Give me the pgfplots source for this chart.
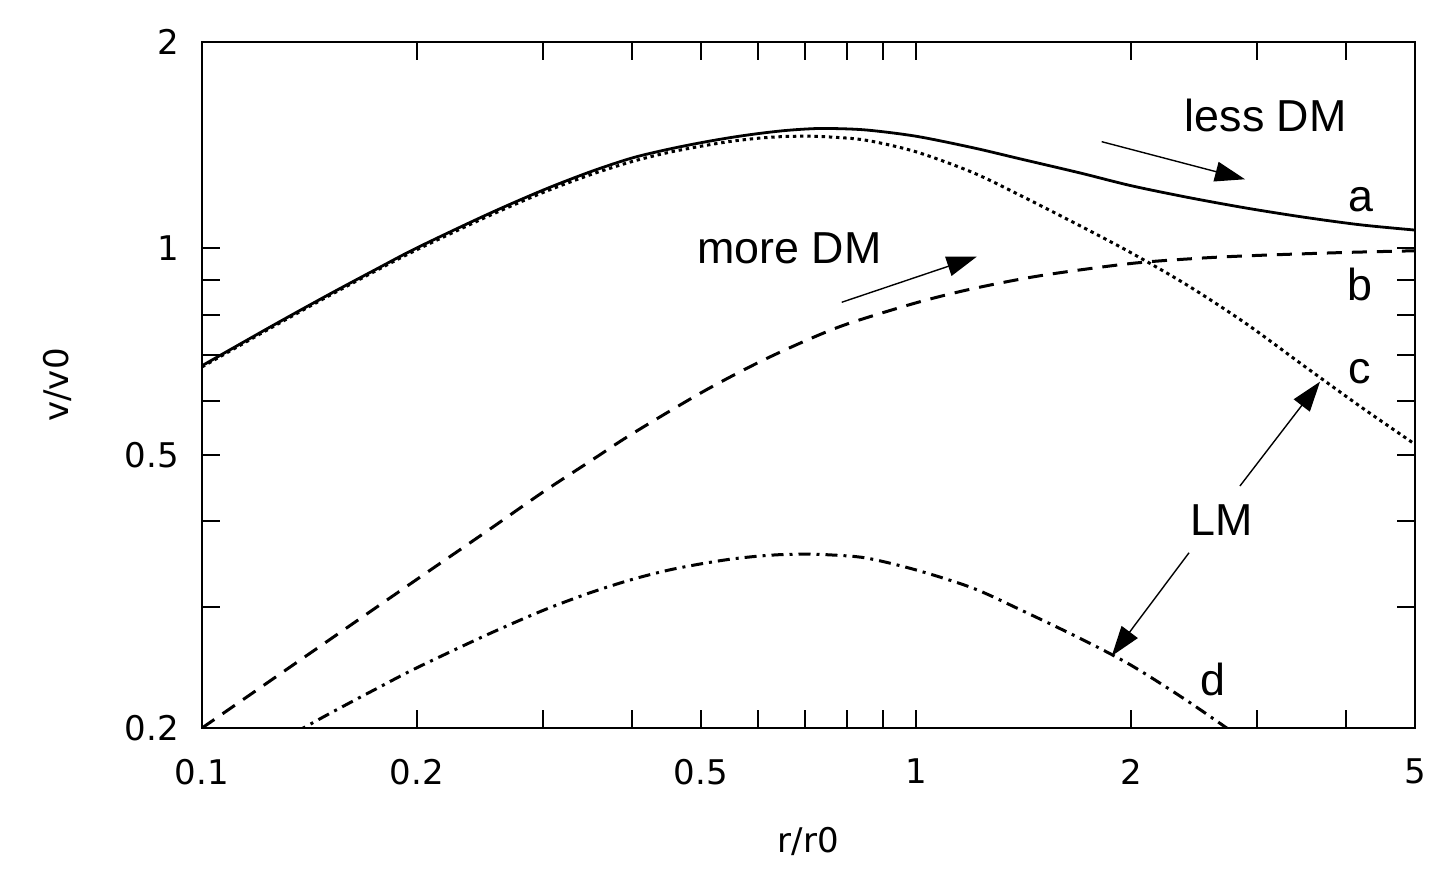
\documentclass[border=0pt]{standalone}
\usepackage{fontspec}
\setmainfont{DejaVu Sans}
\newfontfamily\annotfont{Liberation Sans}
\usepackage{pgfplots}
\pgfplotsset{compat=1.18}
\usetikzlibrary{arrows.meta}

% rotation curves, v/v0 against r/r0
% a: total, less DM
\pgfplotstableread{
r      v
0.100  0.6747
0.125  0.7698
0.150  0.8550
0.175  0.9316
0.200  1.0020
0.250  1.1189
0.300  1.2157
0.350  1.2937
0.400  1.3547
0.450  1.3952
0.500  1.4264
0.550  1.4511
0.600  1.4702
0.650  1.4844
0.700  1.4932
0.750  1.4963
0.850  1.4888
1.000  1.4577
1.200  1.4029
1.400  1.3509
1.700  1.2882
2.000  1.2349
2.400  1.1874
2.900  1.1455
3.500  1.1105
4.200  1.0825
5.000  1.0638
}\curveA

% b: DM only, more DM
\pgfplotstableread{
r      v
0.100  0.2000
0.150  0.2678
0.200  0.3294
0.250  0.3865
0.300  0.4411
0.350  0.4899
0.400  0.5365
0.500  0.6161
0.600  0.6811
0.700  0.7335
0.800  0.7758
1.000  0.8332
1.200  0.8736
1.500  0.9134
2.000  0.9509
2.500  0.9680
3.000  0.9769
4.000  0.9868
5.000  0.9923
}\curveB

% c: luminous matter, heavy
\pgfplotstableread{
r      v
0.100  0.6720
0.125  0.7666
0.150  0.8513
0.175  0.9273
0.200  0.9960
0.250  1.1111
0.300  1.2061
0.350  1.2809
0.400  1.3386
0.450  1.3802
0.500  1.4096
0.550  1.4326
0.600  1.4476
0.650  1.4557
0.700  1.4579
0.750  1.4549
0.850  1.4386
1.000  1.3835
1.200  1.2909
1.400  1.1951
1.700  1.0783
2.000  0.9861
2.400  0.8839
2.900  0.7772
3.500  0.6737
4.200  0.5876
5.000  0.5183
}\curveC

% d: luminous matter, light
\pgfplotstableread{
r      v
0.125  0.1884
0.150  0.2092
0.175  0.2278
0.200  0.2448
0.250  0.2731
0.300  0.2966
0.350  0.3150
0.400  0.3292
0.450  0.3397
0.500  0.3470
0.550  0.3525
0.600  0.3560
0.650  0.3580
0.700  0.3585
0.750  0.3578
0.850  0.3540
1.000  0.3400
1.200  0.3200
1.400  0.2975
1.700  0.2700
2.000  0.2470
2.400  0.2190
2.900  0.1911
}\curveD

\begin{document}
\begin{tikzpicture}
\path[use as bounding box] (-101pt,-70.5pt) rectangle (617pt,364pt);
\begin{axis}[
  scale only axis,
  width=606.5pt, height=343pt,
  xmode=log, ymode=log,
  xmin=0.1, xmax=5, ymin=0.2, ymax=2,
  xtick={0.1,0.2,0.5,1,2,5},
  xticklabels={0.1,0.2,0.5,1,2,5},
  minor xtick={0.3,0.4,0.6,0.7,0.8,0.9,3,4},
  ytick={0.2,0.5,1,2},
  yticklabels={0.2,0.5,1,2},
  minor ytick={0.3,0.4,0.6,0.7,0.8,0.9},
  tick align=inside,
  major tick length=9pt, minor tick length=9pt,
  every tick/.style={black, line width=1pt},
  axis line style={black, line width=1pt},
  tick label style={font=\fontsize{17}{20}\selectfont},
  xticklabel style={yshift=-12pt},
  yticklabel style={xshift=-8pt},
  xlabel={r/r0}, ylabel={v/v0},
  label style={font=\fontsize{17}{20}\selectfont},
  xlabel style={at={(axis description cs:0.5,-0.182)}, anchor=base},
  ylabel style={at={(axis description cs:-0.1195,0.5)}, anchor=center},
  every axis plot/.append style={smooth, tension=0.5},
]
\addplot[black, line width=1.4pt] table[x=r, y=v] {\curveA};
\addplot[black, line width=1.5pt, dash pattern=on 7.5pt off 5pt] table[x=r, y=v] {\curveB};
\addplot[black, line width=1.5pt, dash pattern=on 1.7pt off 1.9pt] table[x=r, y=v] {\curveC};
\addplot[black, line width=1.5pt, dash pattern=on 6pt off 3pt on 1.5pt off 3pt] table[x=r, y=v] {\curveD};

% annotations
\begin{scope}[font=\annotfont\fontsize{22.4}{26}\selectfont]
\node[anchor=base] at (rel axis cs:0.8770,0.8693) {less DM};
\node[anchor=base] at (rel axis cs:0.4843,0.6778) {more DM};
\node[anchor=base] at (rel axis cs:0.9555,0.7522) {a};
\node[anchor=base] at (rel axis cs:0.9547,0.6239) {b};
\node[anchor=base] at (rel axis cs:0.9547,0.5029) {c};
\node[anchor=base] at (rel axis cs:0.8335,0.0481) {d};
\node[anchor=base] at (rel axis cs:0.8409,0.2813) {LM};
\end{scope}
\begin{scope}[line width=0.7pt, -{Triangle[length=15pt,width=10pt]}]
\draw (rel axis cs:0.7417,0.8547) -- (rel axis cs:0.8599,0.7999);
\draw (rel axis cs:0.5274,0.6206) -- (rel axis cs:0.6387,0.6870);
\draw (rel axis cs:0.8557,0.3528) -- (rel axis cs:0.9217,0.5048);
\draw (rel axis cs:0.8137,0.2555) -- (rel axis cs:0.7500,0.1050);
\end{scope}
\end{axis}
\end{tikzpicture}
\end{document}
